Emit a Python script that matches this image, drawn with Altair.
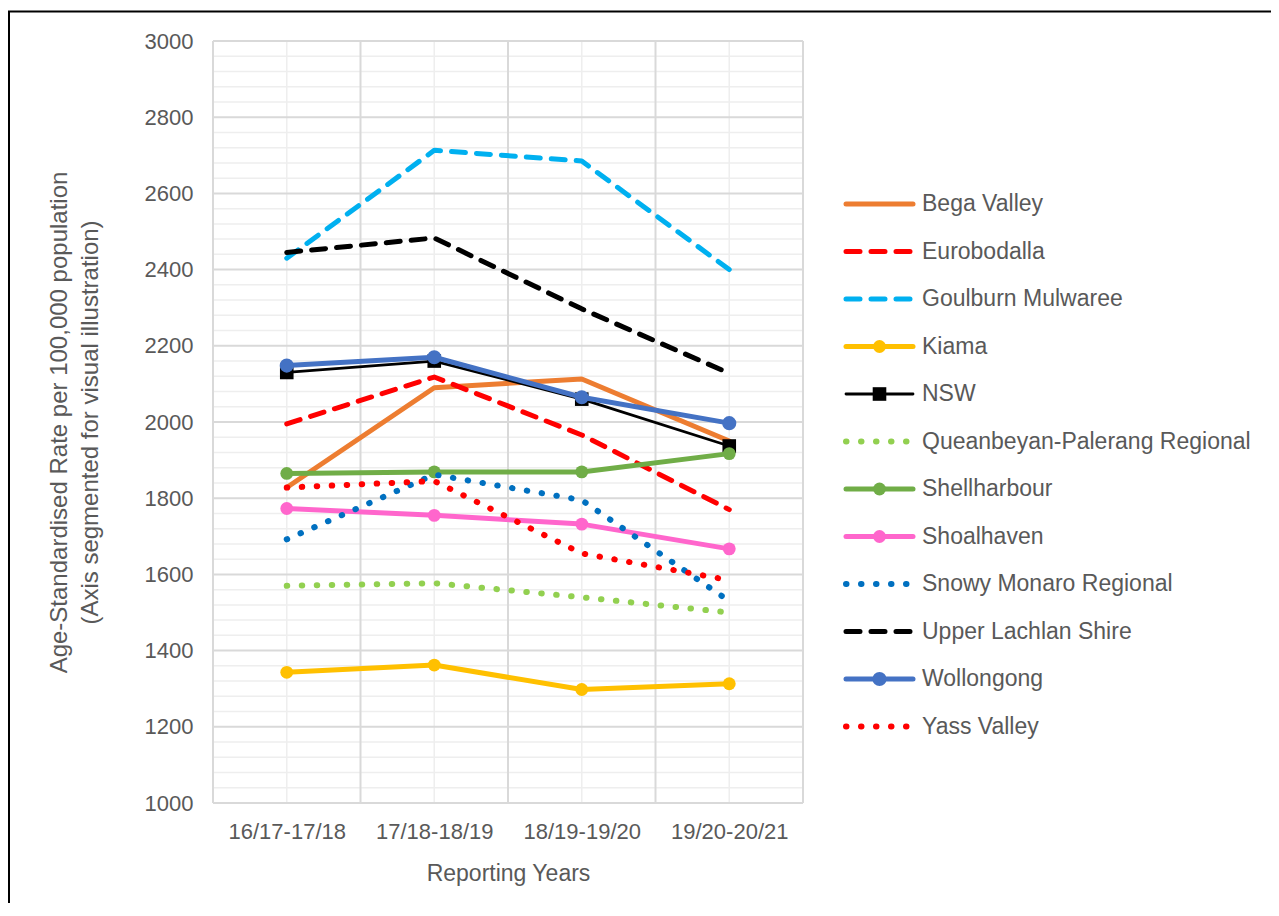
import json
import altair as alt
import pandas as pd

# ---------------- data ----------------
categories = ["16/17-17/18", "17/18-18/19", "18/19-19/20", "19/20-20/21"]

series_names = [
    "Bega Valley", "Eurobodalla", "Goulburn Mulwaree", "Kiama", "NSW",
    "Queanbeyan-Palerang Regional", "Shellharbour", "Shoalhaven",
    "Snowy Monaro Regional", "Upper Lachlan Shire", "Wollongong", "Yass Valley",
]

bega_valley = [1828, 2090, 2113, 1950]
eurobodalla = [1995, 2118, 1966, 1770]
goulburn_mulwaree = [2430, 2713, 2685, 2400]
kiama = [1343, 1362, 1298, 1313]
nsw = [2130, 2160, 2060, 1937]
queanbeyan_palerang = [1570, 1577, 1540, 1500]
shellharbour = [1865, 1869, 1869, 1917]
shoalhaven = [1773, 1755, 1732, 1667]
snowy_monaro = [1692, 1862, 1795, 1530]
upper_lachlan = [2445, 2483, 2297, 2128]
wollongong = [2148, 2170, 2065, 1997]
yass_valley = [1828, 1845, 1655, 1585]

series_values = [
    bega_valley, eurobodalla, goulburn_mulwaree, kiama, nsw, queanbeyan_palerang,
    shellharbour, shoalhaven, snowy_monaro, upper_lachlan, wollongong, yass_valley,
]

y_major_ticks = list(range(1000, 3001, 200))
y_minor_ticks = [v for v in range(1000, 3001, 40) if v % 200 != 0]
x_boundaries = [-0.5, 0.5, 1.5, 2.5, 3.5]
x_centres = [0, 1, 2, 3]

# ---------------- styles ----------------
colors = ["#ED7D31", "#FF0000", "#00B0F0", "#FFC000", "#000000", "#92D050",
          "#70AD47", "#FF66CC", "#0070C0", "#000000", "#4472C4", "#FF0000"]
line_kind = ["solid", "dash", "dash", "solid", "solid", "dot",
             "solid", "solid", "dot", "dash", "solid", "dot"]
marker = [None, None, None, "circle", "square", None,
          "circle", "circle", None, None, "circle", None]
marker_size = [0, 0, 0, 165, 185, 0, 165, 165, 0, 0, 200, 0]

FONT = "Liberation Sans"
GRAY = "#595959"
W, H = 590, 762
LINE1 = "Age-Standardised Rate per 100,000 population"
LINE2 = "(Axis segmented for visual illustration)"

label_expr = json.dumps(categories) + "[datum.value]"


def X(field):
    return alt.X(
        f"{field}:Q",
        scale=alt.Scale(domain=[-0.5, 3.5], nice=False, zero=False),
        axis=alt.Axis(values=x_centres, labelExpr=label_expr, grid=False, domain=False,
                      ticks=False, labelFontSize=22, labelColor=GRAY, labelFont=FONT,
                      labelPadding=18, labelFlush=False, labelOverlap=False,
                      title="Reporting Years", titleFontSize=23, titleColor=GRAY,
                      titleFont=FONT, titleFontWeight="normal", titleY=70,
                      titleBaseline="middle"),
    )


def Y(field):
    return alt.Y(
        f"{field}:Q",
        scale=alt.Scale(domain=[1000, 3000], nice=False, zero=False),
        axis=alt.Axis(values=y_major_ticks, format="d", grid=False, domain=False,
                      ticks=False, labelFontSize=22, labelColor=GRAY, labelFont=FONT,
                      labelPadding=20, title=[LINE1, LINE2], titleFontSize=24,
                      titleLineHeight=31, titleColor=GRAY, titleFont=FONT,
                      titleFontWeight="normal", titleX=-154, titleY=H / 2,
                      titleAngle=-90, titleBaseline="middle", titleAlign="center"),
    )


def line_props(kind, color):
    p = dict(color=color, strokeJoin="round", strokeCap="round")
    if kind == "solid":
        p["strokeWidth"] = 2.8 if color == "#000000" else 5
    elif kind == "dash":
        p["strokeWidth"] = 5
        p["strokeDash"] = [14, 11]
    else:
        p["strokeWidth"] = 6
        p["strokeDash"] = [0.5, 14.5]
    return p


# ---------------- main plot layers ----------------
main_layers = []

frame = alt.Chart(pd.DataFrame({"k": [0]})).mark_rect(
    filled=False, stroke="black", strokeWidth=2
).encode(x=alt.value(-204), x2=alt.value(1300), y=alt.value(-29.5), y2=alt.value(1000))
main_layers.append(frame)

main_layers.append(
    alt.Chart(pd.DataFrame({"v": y_minor_ticks})).mark_rule(color="#eeeeee", strokeWidth=1.5)
    .encode(y=Y("v"))
)
main_layers.append(
    alt.Chart(pd.DataFrame({"v": x_centres})).mark_rule(color="#eeeeee", strokeWidth=1.5)
    .encode(x=X("v"))
)
main_layers.append(
    alt.Chart(pd.DataFrame({"v": y_major_ticks})).mark_rule(color="#d9d9d9", strokeWidth=2)
    .encode(y=Y("v"))
)
main_layers.append(
    alt.Chart(pd.DataFrame({"v": x_boundaries})).mark_rule(color="#d9d9d9", strokeWidth=2)
    .encode(x=X("v"))
)

for i, name in enumerate(series_names):
    df = pd.DataFrame({"idx": x_centres, "period": categories,
                       "value": series_values[i], "series": name})
    main_layers.append(
        alt.Chart(df).mark_line(**line_props(line_kind[i], colors[i]))
        .encode(x=X("idx"), y=Y("value"))
    )
    if marker[i]:
        main_layers.append(
            alt.Chart(df).mark_point(shape=marker[i], filled=True, size=marker_size[i],
                                     color=colors[i], opacity=1)
            .encode(x=X("idx"), y=Y("value"))
        )

main = alt.layer(*main_layers)

# ---------------- legend layers ----------------
LX_SCALE = alt.Scale(domain=[0, 1], range=[633, 700], nice=False, zero=False)


def LX(field):
    return alt.X(f"{field}:Q", scale=LX_SCALE, axis=None)


LY = alt.Y("name:N", scale=alt.Scale(domain=series_names, range=[163, 685.5],
                                     type="point", padding=0), axis=None)

legend_layers = []
for i, name in enumerate(series_names):
    ldf = pd.DataFrame({"name": [name], "x0": [0], "x1": [1], "xm": [0.5]})
    legend_layers.append(
        alt.Chart(ldf).mark_rule(**line_props(line_kind[i], colors[i]))
        .encode(x=LX("x0"), x2="x1:Q", y=LY)
    )
    if marker[i]:
        legend_layers.append(
            alt.Chart(ldf).mark_point(shape=marker[i], filled=True, size=marker_size[i],
                                      color=colors[i], opacity=1)
            .encode(x=LX("xm"), y=LY)
        )

legend_df = pd.DataFrame({"name": series_names, "x1": [1] * len(series_names)})
legend_layers.append(
    alt.Chart(legend_df).mark_text(align="left", baseline="middle", dx=9, fontSize=23,
                                   color=GRAY, font=FONT)
    .encode(x=LX("x1"), y=LY, text="name:N")
)

legend = alt.layer(*legend_layers)

chart = (
    alt.layer(main, legend)
    .resolve_scale(x="independent", y="independent")
    .properties(width=W, height=H, autosize=alt.AutoSizeParams(type="none"),
                padding={"left": 205, "top": 33, "right": 468, "bottom": 100},
                background="white")
    .configure_view(stroke=None)
)

chart.save("out.html", embed_options={"renderer": "svg", "actions": False})
